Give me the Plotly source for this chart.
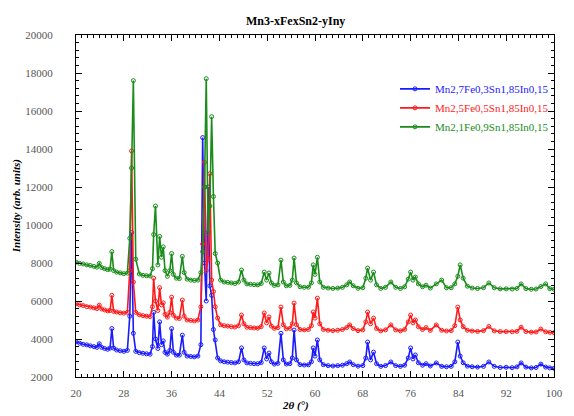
import plotly.graph_objects as go

# 2-theta positions (degrees)
two_theta = [20.0, 20.6, 21.2, 21.8, 22.4, 23.0, 23.5, 23.9, 24.3, 24.8, 25.3, 25.7, 26.0, 26.3, 26.8,
             27.4, 28.0, 28.6, 29.0, 29.3, 29.6, 30.0, 30.6, 31.2, 31.8, 32.4, 32.8, 33.0, 33.3, 33.7,
             34.0, 34.3, 34.6, 34.9, 35.3, 35.7, 36.0, 36.3, 36.8, 37.3, 37.8, 38.1, 38.6, 39.2, 39.8,
             40.4, 40.9, 41.2, 41.5, 41.8, 42.1, 42.4, 42.7, 43.0, 43.3, 43.7, 44.2, 44.8, 45.4, 46.0,
             46.6, 47.2, 47.7, 48.1, 48.6, 49.2, 49.8, 50.4, 51.0, 51.5, 51.9, 52.3, 52.7, 53.2, 53.8,
             54.3, 54.7, 55.2, 55.8, 56.2, 56.5, 56.9, 57.5, 58.2, 58.9, 59.4, 59.7, 60.0, 60.4, 60.8,
             61.4, 62.2, 63.0, 63.8, 64.6, 65.3, 65.8, 66.4, 67.2, 68.0, 68.5, 68.8, 69.3, 69.8, 70.3,
             71.0, 71.8, 72.7, 73.5, 74.3, 75.0, 75.6, 76.0, 76.4, 76.8, 77.3, 78.0, 78.6, 79.3, 80.3,
             81.2, 82.0, 82.8, 83.4, 83.9, 84.3, 84.8, 85.5, 86.3, 87.2, 88.2, 89.1, 90.0, 91.0, 92.0,
             93.0, 93.8, 94.5, 95.3, 96.2, 97.0, 97.8, 98.6, 99.3, 100.0]

fe03 = [3850, 3780, 3720, 3690, 3640, 3600, 3560, 3750, 3560, 3500, 3460, 3520, 4550, 3520, 3420,
        3380, 3350, 3400, 5200, 9600, 4300, 3350, 3280, 3250, 3220, 3200, 3600, 5400, 4000, 3500,
        4900, 3700, 3900, 3300, 3200, 3400, 4550, 3300, 3150, 3150, 4200, 3300, 3100, 3080, 3060,
        3100, 3700, 14600, 8000, 6000, 12000, 6800, 6300, 4500, 3950, 3000, 2850, 2800, 2780, 2760,
        2740, 2800, 3530, 2900, 2740, 2720, 2700, 2700, 2760, 3530, 2950, 3260, 2800, 2680, 2720,
        4300, 2900, 2680, 2700, 3000, 4470, 2900, 2650, 2630, 2640, 2800, 3530, 3100, 3950, 2900,
        2650, 2600, 2580, 2600, 2620, 2700, 2790, 2650, 2570, 2600, 3000, 3840, 2900, 3310, 2700,
        2560, 2600, 2790, 2600, 2560, 2620, 3000, 3530, 2950, 3160, 2750, 2620, 2700, 2580, 2740,
        2560, 2540, 2560, 2800, 3840, 3100, 2750, 2570, 2540, 2520, 2560, 2790, 2560, 2500, 2510,
        2490, 2530, 2740, 2520, 2480, 2500, 2680, 2520, 2480, 2460]

fe05 = [5850, 5800, 5760, 5700, 5680, 5640, 5600, 5780, 5580, 5530, 5480, 5500, 6300, 5450, 5420,
        5380, 5360, 5400, 7600, 13900, 7000, 5400, 5280, 5230, 5200, 5180, 5700, 7200, 6000, 5500,
        6700, 5800, 5900, 5300, 5150, 5400, 6200, 5250, 5100, 5080, 6050, 5200, 5000, 4980, 4950,
        5000, 5700, 9000, 13300, 7600, 8200, 12700, 7100, 6500, 5700, 5100, 4750, 4700, 4680, 4650,
        4630, 4700, 5260, 4800, 4620, 4600, 4580, 4570, 4650, 5370, 4850, 5160, 4680, 4560, 4600,
        5680, 4750, 4540, 4560, 4800, 5890, 4750, 4500, 4480, 4500, 4700, 5420, 5100, 6150, 4800,
        4500, 4460, 4440, 4460, 4500, 4600, 4740, 4550, 4440, 4480, 4900, 5420, 4800, 5100, 4550,
        4430, 4480, 4740, 4480, 4430, 4500, 4900, 5260, 4850, 5000, 4650, 4500, 4600, 4450, 4740,
        4460, 4420, 4440, 4700, 5680, 5000, 4650, 4460, 4420, 4400, 4440, 4660, 4430, 4390, 4390,
        4380, 4400, 4620, 4390, 4360, 4370, 4520, 4380, 4350, 4330]

fe09 = [8050, 7980, 7950, 7900, 7870, 7820, 7780, 7980, 7760, 7700, 7650, 7680, 8600, 7600, 7520,
        7480, 7440, 7470, 9300, 13000, 17600, 8200, 7420, 7350, 7330, 7320, 7700, 9500, 11000, 7900,
        9400, 8300, 8850, 7600, 7300, 7600, 8500, 7400, 7200, 7180, 8350, 7500, 7150, 7100, 7080,
        7100, 7500, 8600, 12000, 17700, 9600, 11000, 15700, 11500, 8500, 8000, 7100, 7000, 6980, 6950,
        6920, 7000, 7630, 7100, 6900, 6880, 6860, 6850, 6920, 7520, 7100, 7470, 6950, 6820, 6850,
        8150, 7000, 6800, 6820, 7100, 8260, 6950, 6750, 6720, 6730, 6950, 7900, 7400, 8300, 7000,
        6720, 6680, 6660, 6680, 6720, 6850, 7000, 6800, 6670, 6700, 7200, 7730, 7100, 7520, 6850,
        6660, 6720, 7000, 6720, 6660, 6750, 7150, 7520, 7100, 7260, 6900, 6750, 6830, 6680, 6900,
        7100, 6700, 6700, 6900, 7300, 7900, 7200, 6780, 6680, 6660, 6700, 6950, 6700, 6640, 6640,
        6630, 6660, 6900, 6650, 6620, 6630, 6760, 6900, 6650, 6620]

series_names = ["Mn2,7Fe0,3Sn1,85In0,15", "Mn2,5Fe0,5Sn1,85In0,15", "Mn2,1Fe0,9Sn1,85In0,15"]
series_values = [fe03, fe05, fe09]
series_colors = ["#1a1aff", "#ff1a1a", "#1a8c1a"]

FONT = "Liberation Serif, Times New Roman, serif"

fig = go.Figure()
for name, vals, col in zip(series_names, series_values, series_colors):
    fig.add_trace(go.Scatter(
        x=two_theta, y=vals, mode="lines+markers",
        name=f"<span style='color:{col}'>{name}</span>",
        line=dict(color=col, width=1.6),
        marker=dict(symbol="circle-open", size=4, color=col, line=dict(width=1, color=col)),
    ))

axis_common = dict(
    showgrid=False, zeroline=False, showline=True, linecolor="black", linewidth=1,
    mirror="allticks", ticks="inside", ticklen=6, tickwidth=1, tickcolor="black",
    tickfont=dict(family=FONT, size=11, color="#555555"),
)

fig.update_xaxes(range=[20, 100], tickmode="linear", tick0=20, dtick=8,
                 minor=dict(dtick=1, ticks="inside", ticklen=3, tickcolor="black", showgrid=False),
                 ticklabelstandoff=6, **axis_common)
fig.update_yaxes(range=[2000, 20000], tickmode="linear", tick0=2000, dtick=2000, tickformat="d",
                 minor=dict(dtick=400, ticks="inside", ticklen=3, tickcolor="black", showgrid=False),
                 ticklabelstandoff=20, **axis_common)

# The page adds an 8 px body margin, so the figure is sized 8 px smaller and shifted accordingly.
fig.update_layout(
    width=566, height=408,
    margin=dict(l=68, r=11, t=27, b=39),
    paper_bgcolor="white", plot_bgcolor="white",
    font=dict(family=FONT, color="black"),
    legend=dict(x=1.0, xanchor="right", y=0.885, yanchor="top",
                bgcolor="rgba(0,0,0,0)", font=dict(family=FONT, size=11),
                itemwidth=30, tracegroupgap=0),
    annotations=[
        dict(text="<b>Mn3-xFexSn2-yIny</b>", x=0.46, y=1.041, xref="paper", yref="paper",
             showarrow=False, xanchor="center", yanchor="middle",
             font=dict(family=FONT, size=12, color="black")),
        dict(text="<b><i>Intensity (arb. units)</i></b>", x=-0.125, y=0.50, xref="paper", yref="paper",
             showarrow=False, textangle=-90, xanchor="center", yanchor="middle",
             font=dict(family=FONT, size=11, color="black")),
        dict(text="<b><i>2θ (°)</i></b>", x=0.46, y=-0.082, xref="paper", yref="paper",
             showarrow=False, xanchor="center", yanchor="middle",
             font=dict(family=FONT, size=11, color="black")),
    ],
)

fig.write_html("out.html")
